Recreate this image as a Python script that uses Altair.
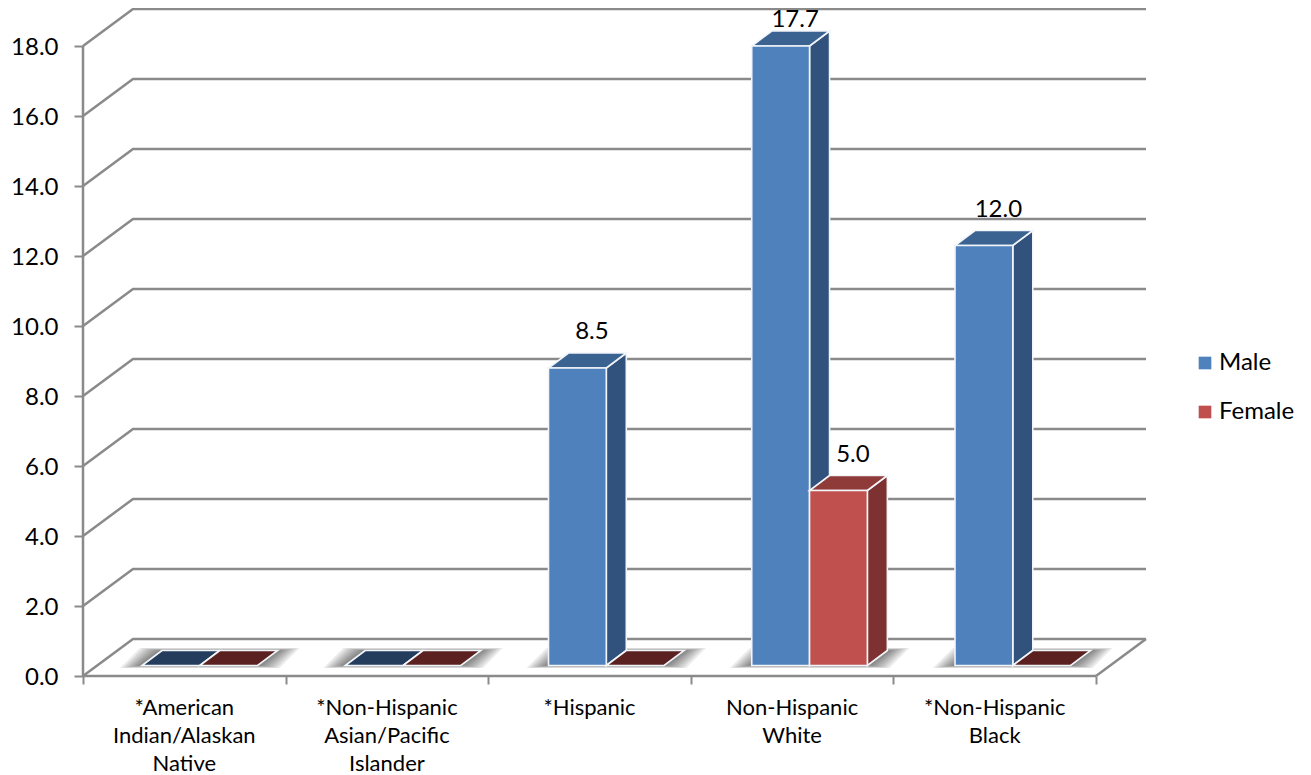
import altair as alt
import pandas as pd

categories = ["*American\nIndian/Alaskan\nNative", "*Non-Hispanic\nAsian/Pacific\nIslander",
              "*Hispanic", "Non-Hispanic\nWhite", "*Non-Hispanic\nBlack"]
male = [0.0, 0.0, 8.5, 17.7, 12.0]
female = [0.0, 0.0, 0.0, 5.0, 0.0]
y_ticks = [0, 2, 4, 6, 8, 10, 12, 14, 16, 18]
x_ticks = [0, 1, 2, 3, 4, 5]

FONT = "Lato"
GRID = "#8a8a8a"
EDGE = "#f2f5f9"
PX_X = 202.6   # px per category
PX_Y = 35.0    # px per y unit
WALL_DX, WALL_DY = 50 / PX_X, 37 / PX_Y
BAR_DX, BAR_DY = 20 / PX_X, 15 / PX_Y
BASE = 10.5 / PX_Y
BAR_START, BAR_W, BAR_STEP = 59 / PX_X, 57.8 / PX_X, 203.25 / PX_X
X_MAX, Y_MAX = 5 + WALL_DX, 18 + WALL_DY

x_scale = alt.Scale(domain=[0, X_MAX], nice=False, zero=False)
y_scale = alt.Scale(domain=[0, Y_MAX], nice=False, zero=False)
x_axis = alt.Axis(values=x_ticks, labels=False, domain=False, grid=False, title=None,
                  tickColor=GRID, tickWidth=2, tickSize=8)
y_axis = alt.Axis(values=y_ticks, format=".1f", domain=False, grid=False, title=None,
                  tickColor=GRID, tickWidth=2, tickSize=9, labelFont=FONT, labelFontSize=24,
                  labelColor="black", labelPadding=16, labelOffset=1)
X = alt.X("x:Q", scale=x_scale, axis=x_axis)
Y = alt.Y("y:Q", scale=y_scale, axis=y_axis)

# wall and floor lines
grid = []
for v in y_ticks:
    for i, (a, b) in enumerate([(0, v), (WALL_DX, v + WALL_DY), (X_MAX, v + WALL_DY)]):
        grid.append({"k": f"g{v}", "i": i, "x": a, "y": b})
for i, (a, b) in enumerate([(5, 0), (X_MAX, WALL_DY)]):
    grid.append({"k": "floor", "i": i, "x": a, "y": b})
for i, (a, b) in enumerate([(0, 0), (5, 0)]):
    grid.append({"k": "xaxis", "i": i, "x": a, "y": b})
for i, (a, b) in enumerate([(0, 0), (0, 18)]):
    grid.append({"k": "yaxis", "i": i, "x": a, "y": b})
grid_layer = alt.Chart(pd.DataFrame(grid)).mark_line(color=GRID, strokeWidth=2.5).encode(
    x=X, y=Y, detail="k:N", order="i:Q")

# floor shadows: nested translucent parallelograms give a soft edge
shadow_rows = []
STEPS = 8
for c in range(5):
    for k in range(STEPS):
        mx = (20 * k / (STEPS - 1) + 2) / PX_X
        my = (2.5 * k / (STEPS - 1)) / PX_Y
        l = c * BAR_STEP + BAR_START - mx
        r = c * BAR_STEP + BAR_START + 2 * BAR_W + mx
        key = f"{c}-{k}"
        shadow_rows.append({"c": key, "y": BASE - my, "x": l, "x2": r})
        shadow_rows.append({"c": key, "y": BASE + BAR_DY + my, "x": l + BAR_DX, "x2": r + BAR_DX})
shadow_layer = alt.Chart(pd.DataFrame(shadow_rows)).mark_area(
    orient="horizontal", color="#000000", opacity=0.08).encode(
    y=Y, x=X, x2="x2:Q", detail="c:N")

layers = []
series = [("Male", male, 0, "#3b6392", "#31527c", "#253d5c"),
          ("Female", female, 1, "#8f3b39", "#7d3130", "#5a2120")]
for name, values, idx, top_c, side_c, flat_c in series:
    side, top, flat, front = [], [], [], []
    for c, v in enumerate(values):
        l = c * BAR_STEP + BAR_START + idx * BAR_W
        r = l + BAR_W
        t = BASE + v
        if v > 0:
            side.append({"c": c, "x": r, "y": BASE, "y2": t})
            side.append({"c": c, "x": r + BAR_DX, "y": BASE + BAR_DY, "y2": t + BAR_DY})
            front.append({"series": name, "x": l, "x2": r, "y": BASE, "y2": t})
        dest = top if v > 0 else flat
        dest.append({"c": c, "y": t, "x": l, "x2": r})
        dest.append({"c": c, "y": t + BAR_DY, "x": l + BAR_DX, "x2": r + BAR_DX})
    layers.append(alt.Chart(pd.DataFrame(side)).mark_area(color=side_c, stroke=EDGE, strokeWidth=1.6).encode(
        x=X, y=Y, y2="y2:Q", detail="c:N"))
    layers.append(alt.Chart(pd.DataFrame(top)).mark_area(orient="horizontal", color=top_c, stroke=EDGE, strokeWidth=1.6).encode(
        y=Y, x=X, x2="x2:Q", detail="c:N"))
    layers.append(alt.Chart(pd.DataFrame(flat)).mark_area(orient="horizontal", color=flat_c, stroke=EDGE, strokeWidth=1.6).encode(
        y=Y, x=X, x2="x2:Q", detail="c:N"))
    layers.append(alt.Chart(pd.DataFrame(front)).mark_bar(stroke=EDGE, strokeWidth=1.6).encode(
        x=X, x2="x2:Q", y=Y, y2="y2:Q",
        color=alt.Color("series:N",
                        scale=alt.Scale(domain=["Male", "Female"], range=["#4f81bd", "#c0504d"]),
                        legend=alt.Legend(title=None, orient="none", legendX=1110, legendY=342,
                                          symbolType="square", symbolSize=160, symbolStrokeWidth=0,
                                          labelFont=FONT, labelFontSize=24, labelColor="black",
                                          rowPadding=25, labelOffset=2))))

# value labels
labels = []
for idx, values in enumerate([male, female]):
    for c, v in enumerate(values):
        if v > 0:
            labels.append({"x": c * BAR_STEP + BAR_START + (idx + 0.5) * BAR_W + 14.5 / PX_X,
                           "y": min(BASE + v + 36 / PX_Y, 18.75), "t": f"{v:.1f}"})
label_layer = alt.Chart(pd.DataFrame(labels)).mark_text(font=FONT, fontSize=24, color="black", baseline="middle").encode(
    x=X, y=Y, text="t:N")

# category labels
cat_df = pd.DataFrame({"x": [i + 0.5 for i in range(5)], "t": categories})
cat_layer = alt.Chart(cat_df).mark_text(font=FONT, fontSize=22, color="black", baseline="top",
                                        lineBreak="\n", lineHeight=28).encode(
    x=X, y=alt.value(689), text="t:N")

chart = alt.layer(grid_layer, shadow_layer, *layers, label_layer, cat_layer).properties(
    width=1063, height=667,
    padding={"left": 75, "top": 1, "right": 157, "bottom": 98},
    autosize=alt.AutoSizeParams(type="none"),
    background="white",
).configure_view(stroke=None)

chart.save("out.html", embed_options={"renderer": "svg", "actions": False})
